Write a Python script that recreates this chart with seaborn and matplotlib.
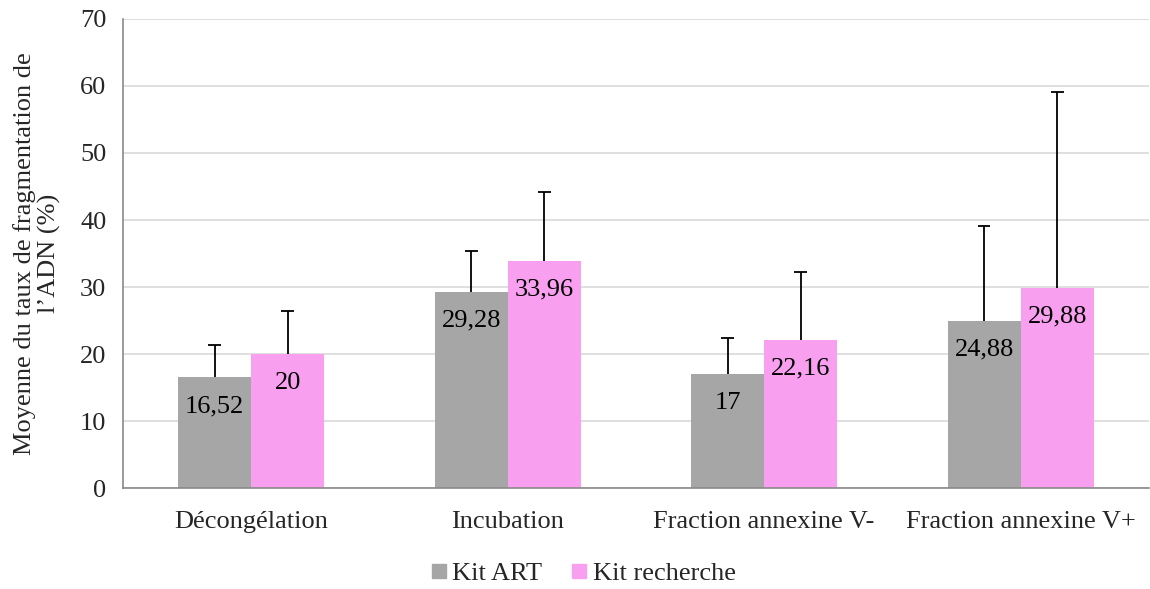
import pandas as pd
import numpy as np
import matplotlib
matplotlib.use("Agg")
import matplotlib.pyplot as plt
from matplotlib.lines import Line2D
import seaborn as sns

# ─── Data ─────────────────────────────────────────────────────────────────────
categories = ["Décongélation", "Incubation", "Fraction annexine V-", "Fraction annexine V+"]
kits = ["Kit ART", "Kit recherche"]
art_means = [16.52, 29.28, 17.0, 24.88]
rech_means = [20.0, 33.96, 22.16, 29.88]
art_err = [4.9, 6.1, 5.4, 14.2]
rech_err = [6.4, 10.2, 10.1, 29.2]
value_labels = {"Kit ART": ["16,52", "29,28", "17", "24,88"],
                "Kit recherche": ["20", "33,96", "22,16", "29,88"]}

df = pd.DataFrame({
    "etape": categories * 2,
    "kit": [kits[0]] * 4 + [kits[1]] * 4,
    "taux": art_means + rech_means,
})
errors = {"Kit ART": art_err, "Kit recherche": rech_err}

# ─── Style ────────────────────────────────────────────────────────────────────
sns.set_theme(style="white")
plt.rcParams["font.family"] = ["Liberation Serif", "DejaVu Serif"]
FS = 19
PALETTE = {"Kit ART": "#A6A6A6", "Kit recherche": "#F99FF0"}

fig = plt.figure(figsize=(11.5, 5.89), dpi=100)
ax = fig.add_axes([0.107, 0.171, 0.892, 0.797])

sns.barplot(data=df, x="etape", y="taux", hue="kit", order=categories,
            hue_order=kits, palette=PALETTE, width=0.57, gap=0,
            linewidth=0, saturation=1, ax=ax, legend=False)

# upper-only error bars (cap on top only) + value labels inside bars
cap_half = 0.025
for cont, kit in zip(ax.containers, kits):
    xs = np.array([p.get_x() + p.get_width() / 2 for p in cont])
    hs = np.array([p.get_height() for p in cont])
    tops = hs + np.array(errors[kit])
    ax.vlines(xs, hs, tops, color="black", lw=1.3, zorder=3)
    ax.hlines(tops, xs - cap_half, xs + cap_half, color="black", lw=1.3, zorder=3)
    for x, h, lab in zip(xs, hs, value_labels[kit]):
        ax.annotate(lab, (x, h), xytext=(0, -20.5), textcoords="offset points",
                    ha="center", va="center", fontsize=FS, color="black")

# axes
ax.set_ylim(0, 70)
ax.set_yticks(range(0, 71, 10))
ax.set_xlim(-0.5, 3.5)
ax.yaxis.grid(True, color="#D9D9D9", lw=1.2)
ax.set_axisbelow(True)
for s in ["top", "right"]:
    ax.spines[s].set_visible(False)
for s in ["left", "bottom"]:
    ax.spines[s].set_color("#898989")
    ax.spines[s].set_linewidth(1.2)

ax.set_xticks(range(4))
ax.set_xticklabels(categories, fontsize=FS)
ax.set_xticks(np.arange(-0.5, 4, 1), minor=True)
ax.tick_params(axis="x", which="major", length=0, pad=16)
ax.tick_params(axis="x", which="minor", length=6, color="#898989", width=1.2, direction="out")
ax.tick_params(axis="y", length=6, color="#898989", width=1.2, direction="out",
               labelsize=FS, pad=6)
ax.set_xlabel("")
ax.set_ylabel("Moyenne du taux de fragmentation de\nl’ADN (%)", fontsize=FS,
              linespacing=1.1, labelpad=14)

handles = [Line2D([], [], marker="s", ls="", markersize=10, color=PALETTE[k]) for k in kits]
fig.legend(handles, kits, loc="center", bbox_to_anchor=(0.505, 0.027), ncol=2,
           frameon=False, fontsize=FS, handletextpad=0.0, columnspacing=0.9,
           handlelength=1.0)

fig.savefig("out.png", dpi=100)
